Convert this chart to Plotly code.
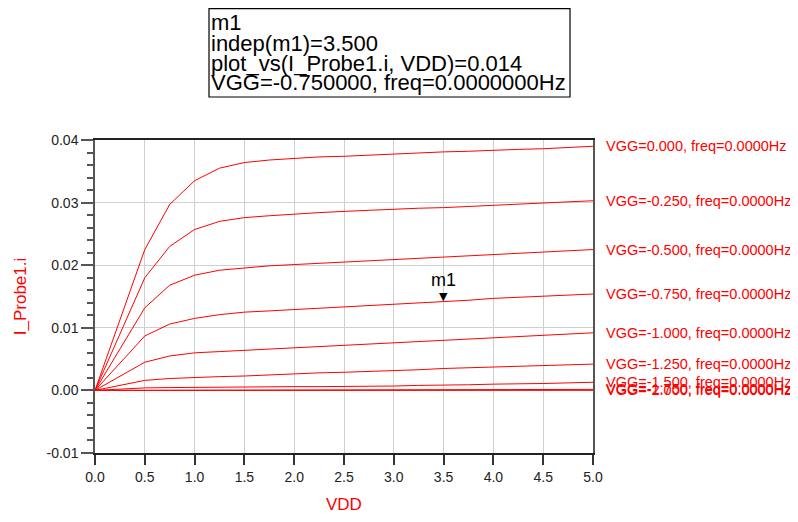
import plotly.graph_objects as go

vdd = [0, 0.5, 0.75, 1.0, 1.25, 1.5, 1.75, 2.0, 2.25, 2.5, 2.75, 3.0, 3.25, 3.5, 3.75, 4.0, 4.25, 4.5, 4.75, 5.0]

vgg_labels = ["0.000", "-0.250", "-0.500", "-0.750", "-1.000", "-1.250", "-1.500", "-1.750", "-2.000"]

i_vgg_0_000 = [0, 0.0225, 0.0297, 0.0335, 0.0355, 0.0364, 0.0368, 0.0371, 0.0373, 0.0374, 0.0376, 0.0378, 0.0379, 0.0381, 0.0382, 0.0384, 0.0385, 0.0386, 0.0388, 0.0390]
i_vgg_m0_250 = [0, 0.0180, 0.0230, 0.0257, 0.0270, 0.0276, 0.0279, 0.0282, 0.0284, 0.0286, 0.0288, 0.0290, 0.0291, 0.0292, 0.0294, 0.0296, 0.0297, 0.0299, 0.0301, 0.0303]
i_vgg_m0_500 = [0, 0.0132, 0.0168, 0.0184, 0.0192, 0.0196, 0.0199, 0.0201, 0.0203, 0.0205, 0.0207, 0.0210, 0.0212, 0.0213, 0.0215, 0.0217, 0.0219, 0.0221, 0.0223, 0.0225]
i_vgg_m0_750 = [0, 0.0087, 0.0106, 0.0115, 0.0121, 0.0125, 0.0127, 0.0129, 0.0131, 0.0133, 0.0135, 0.0137, 0.0139, 0.0141, 0.0144, 0.0147, 0.0149, 0.0150, 0.0152, 0.0154]
i_vgg_m1_000 = [0, 0.0045, 0.0055, 0.0060, 0.0062, 0.0064, 0.0066, 0.0068, 0.0070, 0.0072, 0.0075, 0.0077, 0.0078, 0.0080, 0.0082, 0.0084, 0.0086, 0.0088, 0.0090, 0.0092]
i_vgg_m1_250 = [0, 0.0016, 0.0019, 0.0021, 0.0022, 0.0023, 0.0025, 0.0027, 0.0028, 0.0029, 0.0030, 0.0031, 0.0033, 0.0035, 0.0036, 0.0037, 0.0038, 0.0040, 0.0041, 0.0042]
i_vgg_m1_500 = [0, 0.0004, 0.00045, 0.0005, 0.0005, 0.0005, 0.00055, 0.0006, 0.0006, 0.0006, 0.00065, 0.0007, 0.0008, 0.0008, 0.0009, 0.0010, 0.0010, 0.0011, 0.0012, 0.0013]
i_vgg_m1_750 = [0, 0.00002, 0.00003, 0.00003, 0.00004, 0.00004, 0.00005, 0.00005, 0.00006, 0.00006, 0.00007, 0.00008, 0.00009, 0.0001, 0.00011, 0.00012, 0.00013, 0.00014, 0.00015, 0.00016]
i_vgg_m2_000 = [0, 0.000005, 0.000005, 0.000005, 0.000006, 0.000006, 0.000007, 0.000007, 0.000008, 0.000008, 0.000009, 0.00001, 0.00001, 0.00001, 0.000012, 0.000013, 0.000014, 0.000015, 0.000016, 0.000018]

series = [i_vgg_0_000, i_vgg_m0_250, i_vgg_m0_500, i_vgg_m0_750, i_vgg_m1_000,
          i_vgg_m1_250, i_vgg_m1_500, i_vgg_m1_750, i_vgg_m2_000]

x_ticks = [0.0, 0.5, 1.0, 1.5, 2.0, 2.5, 3.0, 3.5, 4.0, 4.5, 5.0]
y_ticks = [-0.01, 0.0, 0.01, 0.02, 0.03, 0.04]

marker_vdd = 3.5
marker_index = vdd.index(marker_vdd)
marker_series = 3  # VGG=-0.750

FONT = "Liberation Sans, Arial, sans-serif"
RED = "#ff0000"

# The page body has an 8px margin, so the figure starts at (8, 8) in the window;
# keep it inside the body's content box so nothing is clipped.
OFF = 8
W, H = 798 - 2 * OFF, 522 - 2 * OFF
ML, MT = 95 - OFF, 140 - OFF
MR = W + OFF - 593
MB = H + OFF - 453
PW, PH = W - ML - MR, H - MT - MB


def px_x(px):  # window pixel -> paper x
    return (px - OFF - ML) / PW


def px_y(py):  # window pixel -> paper y
    return (H - MB - (py - OFF)) / PH


fig = go.Figure()
for lab, ys in zip(vgg_labels, series):
    fig.add_trace(go.Scatter(x=vdd, y=ys, mode="lines", line=dict(color=RED, width=1),
                             name="VGG=" + lab, showlegend=False, hoverinfo="skip"))

annotations = []
for lab, ys in zip(vgg_labels, series):
    annotations.append(dict(xref="paper", yref="y", x=px_x(605), y=ys[-1], xanchor="left", yanchor="middle",
                            text=f"VGG={lab}, freq=0.0000Hz", showarrow=False, borderpad=0,
                            font=dict(family=FONT, size=14.5, color=RED)))

my = series[marker_series][marker_index]
annotations.append(dict(x=marker_vdd, y=my, xref="x", yref="y", text="▼", showarrow=False,
                        yanchor="bottom", yshift=-3, font=dict(family="DejaVu Sans", size=11, color="black")))
annotations.append(dict(x=marker_vdd, y=my, xref="x", yref="y", text="m1", showarrow=False,
                        yanchor="bottom", yshift=10, font=dict(family=FONT, size=18, color="black")))

box_lines = ["m1",
             "indep(m1)=%.3f" % marker_vdd,
             "plot_vs(I_Probe1.i, VDD)=%.3f" % my,
             "VGG=-0.750000, freq=0.0000000Hz"]
for k, line in enumerate(box_lines):
    annotations.append(dict(xref="paper", yref="paper", x=px_x(210), y=px_y(23 + 20 * k),
                            xanchor="left", yanchor="middle", text=line, showarrow=False,
                            borderpad=0, font=dict(family=FONT, size=22, color="black")))

# x-axis title, placed as text below the tick labels (kept inside the page)
annotations.append(dict(xref="paper", yref="paper", x=0.5, y=px_y(504), xanchor="center", yanchor="middle",
                        text="VDD", showarrow=False, borderpad=0,
                        font=dict(family=FONT, size=17, color=RED)))

shapes = [dict(type="rect", xref="paper", yref="paper", x0=px_x(209), x1=px_x(570),
               y0=px_y(97), y1=px_y(8.7), line=dict(color="black", width=1.2), fillcolor="rgba(0,0,0,0)")]

fig.update_layout(
    width=W, height=H,
    margin=dict(l=ML, r=MR, t=MT, b=MB, autoexpand=False),
    paper_bgcolor="white", plot_bgcolor="white",
    font=dict(family=FONT, size=13, color="#222"),
    annotations=annotations,
    shapes=shapes,
    xaxis=dict(range=[0, 5], tickvals=x_ticks, ticktext=[f"{v:.1f}" for v in x_ticks],
               ticks="outside", ticklen=10, tickcolor="#333", tickwidth=1.5,
               showline=True, linecolor="#222", linewidth=1.5, mirror=True,
               showgrid=True, gridcolor="#cfcfcf", gridwidth=1.2, zeroline=False, automargin=False,
               tickfont=dict(family=FONT, size=14, color="#222")),
    yaxis=dict(range=[-0.01, 0.04], tickvals=y_ticks, ticktext=[f"{v:.2f}" for v in y_ticks],
               ticks="outside", ticklen=12, tickcolor="#555", tickwidth=1.5,
               minor=dict(dtick=0.002, ticks="outside", ticklen=6, tickcolor="#555", tickwidth=1.5, showgrid=False),
               showline=True, linecolor="#555", linewidth=1.5, mirror=True,
               showgrid=True, gridcolor="#cfcfcf", gridwidth=1.2, zeroline=False, automargin=False,
               tickfont=dict(family=FONT, size=14, color="#222"),
               title=dict(text="I_Probe1.i", font=dict(family=FONT, size=17, color=RED), standoff=16)),
)

fig.write_html("out.html")
